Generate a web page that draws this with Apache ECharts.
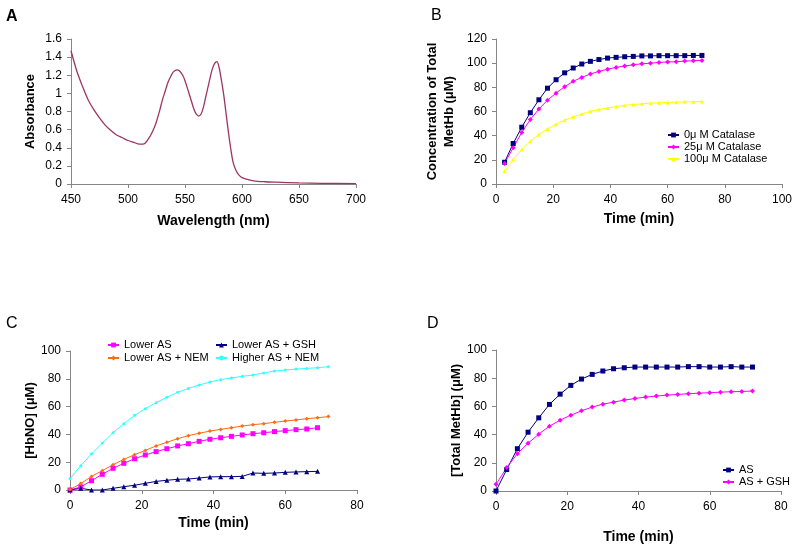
<!DOCTYPE html>
<html>
<head>
<meta charset="utf-8">
<script src="https://cdn.jsdelivr.net/npm/echarts@6/dist/echarts.min.js"></script>
<style>html,body{margin:0;padding:0;background:#fff}#c{width:800px;height:546px}</style>
</head>
<body>
<div id="c"></div>
<script>
// Panel A: absorbance spectrum
const wavelength = [450,455,460,465,470,475,480,485,490,495,500,505,510,513,515,518,520,523,525,528,530,533,535,538,540,543,545,548,550,553,555,558,560,562,564,566,568,570,572,574,576,578,580,582,584,586,588,590,592,594,596,598,600,605,610,620,630,650,670,700];
const absorbance = [1.47,1.25,1.08,0.93,0.82,0.73,0.65,0.59,0.54,0.51,0.48,0.46,0.44,0.44,0.45,0.50,0.54,0.62,0.69,0.82,0.92,1.04,1.12,1.20,1.24,1.26,1.25,1.20,1.14,1.02,0.94,0.82,0.77,0.75,0.77,0.84,0.95,1.06,1.17,1.27,1.33,1.35,1.28,1.14,0.98,0.78,0.58,0.40,0.25,0.17,0.12,0.09,0.07,0.05,0.035,0.025,0.02,0.012,0.008,0.005];

// Panel B: catalase
const timeB = [3,6,9,12,15,18,21,24,27,30,33,36,39,42,45,48,51,54,57,60,63,66,69,72];
const cat0 = [18,33.5,47,59,69.7,79.3,86.3,92,96,99.3,101.5,103,104.2,104.8,105.3,105.6,106,106,106.2,106.2,106.2,106.2,106.4,106.4];
const cat25 = [17,30,42.6,53.4,62,69.4,75.2,80.5,85,88.2,91,93.2,95,96.5,97.6,98.7,99.5,100,100.6,101,101.2,101.7,102,102.3];
const cat100 = [10.8,20.2,28.5,35.4,41,45.6,49.5,52.8,55.6,58,60,61.7,63,64.1,65,65.8,66.4,66.9,67.2,67.5,67.7,68,68,68.3];

// Panel C: HbNO
const timeC = [0,3,6,9,12,15,18,21,24,27,30,33,36,39,42,45,48,51,54,57,60,63,66,69,72];
const lowerAS = [0,2.2,6.7,11.3,15.6,19.2,22.5,25.2,27.6,29.7,31.7,33.3,35,36.5,37.6,38.6,39.6,40.5,41.2,42,42.7,43.4,43.9,44.8];
const lowerASGSH = [0,1.2,0,0,1.2,2.4,3.4,4.8,6.2,7,7.7,7.9,8.6,9.4,9.6,9.6,9.8,12.2,12,12.2,12.7,13,13.2,13.4];
const lowerASNEM = [0.3,4.6,9.8,13.9,18.2,22,25.4,28.5,31.7,34.3,36.9,39.1,40.8,42.4,43.6,44.8,46,47,47.7,48.7,49.6,50.4,51.3,52,52.8];
const higherASNEM = [8.2,17.5,26,33.8,41.2,47.7,53.7,58.5,62.8,66.7,70.3,73.1,75.5,77.7,79.4,80.6,81.8,82.7,84.2,85.6,86.3,87,87.5,88,88.7];

// Panel D: total MetHb
const timeD = [0,3,6,9,12,15,18,21,24,27,30,33,36,39,42,45,48,51,54,57,60,63,66,69,72];
const metAS = [0,15.2,30,41.7,51.9,61.4,68.7,74.9,79.4,82.7,85.1,86.7,87.4,87.9,87.9,87.9,87.9,87.9,88.2,88.2,87.9,87.9,88.2,87.9,87.9];
const metASGSH = [4.7,16.6,26.5,33.9,40.3,46,50.2,53.8,56.9,59.5,61.6,63,64.5,65.6,66.6,67.3,68,68.5,69,69.4,69.7,70.1,70.4,70.6,70.9];

const pair = (xs, ys) => ys.map((y, i) => [xs[i], y]);

const FONT = 'Liberation Sans, Arial, sans-serif';
const axisLine = {lineStyle: {color: '#868686', width: 1}};
const axisTick = {show: true, inside: false, length: 4, lineStyle: {color: '#868686'}};
const xLabel = {color: '#000', fontSize: 12, fontFamily: FONT, margin: 10};
const yLabel = {color: '#000', fontSize: 12, fontFamily: FONT, margin: 9};
const xNameStyle = {color: '#000', fontSize: 14, fontWeight: 'bold', fontFamily: FONT};
const yNameStyle = {color: '#000', fontSize: 13, fontWeight: 'bold', fontFamily: FONT};

function xAx(idx, min, max, interval, name, gap) {
  return {gridIndex: idx, type: 'value', min, max, interval, name, nameLocation: 'middle', nameGap: gap,
    nameTextStyle: xNameStyle, axisLine, axisTick, axisLabel: xLabel, splitLine: {show: false}};
}
function yAx(idx, min, max, interval, name, gap, extra) {
  return Object.assign({gridIndex: idx, type: 'value', min, max, interval, name, nameLocation: 'middle', nameGap: gap,
    nameTextStyle: yNameStyle, axisLine: Object.assign({show: true}, axisLine), axisTick, axisLabel: yLabel, splitLine: {show: false}}, extra || {});
}
function ser(name, idx, data, color, symbol, size) {
  return {name, type: 'line', xAxisIndex: idx, yAxisIndex: idx, data, symbol, symbolSize: size,
    showSymbol: true, lineStyle: {color, width: 1}, itemStyle: {color}, animation: false};
}
function leg(data, left, top, gap) {
  return {data, orient: 'vertical', left, top, padding: 0, itemWidth: 11, itemHeight: 6, itemGap: gap,
    textStyle: {fontSize: 11, lineHeight: 12, color: '#000', fontFamily: FONT}};
}

const NAVY = '#000080', MAG = '#ff00ff', YEL = '#ffff00', ORG = '#ff6a13', CYAN = '#33ffff';

const chart = echarts.init(document.getElementById('c'), null, {renderer: 'canvas'});
chart.setOption({
  animation: false,
  backgroundColor: '#fff',
  textStyle: {fontFamily: FONT},
  graphic: [
    {type: 'text', left: 6, top: 9, style: {text: 'A', fontSize: 16, fontWeight: 'bold', fill: '#000', fontFamily: FONT}},
    {type: 'text', left: 431, top: 8, style: {text: 'B', fontSize: 16, fill: '#000', fontFamily: FONT}},
    {type: 'text', left: 6, top: 316, style: {text: 'C', fontSize: 16, fill: '#000', fontFamily: FONT}},
    {type: 'text', left: 427, top: 316, style: {text: 'D', fontSize: 16, fill: '#000', fontFamily: FONT}}
  ],
  grid: [
    {left: 71, top: 39, width: 285, height: 145},
    {left: 496, top: 39, width: 286, height: 145},
    {left: 70, top: 351, width: 287, height: 139},
    {left: 496, top: 350, width: 285, height: 141}
  ],
  xAxis: [
    xAx(0, 450, 700, 50, 'Wavelength (nm)', 30),
    xAx(1, 0, 100, 20, 'Time (min)', 28),
    xAx(2, 0, 80, 20, 'Time (min)', 26),
    xAx(3, 0, 80, 20, 'Time (min)', 39)
  ],
  yAxis: [
    yAx(0, 0, 1.6, 0.2, 'Absorbance', 34),
    yAx(1, 0, 120, 20, 'Concentration of Total\nMetHb (\u03bcM)', 38, {nameTextStyle: Object.assign({}, yNameStyle, {lineHeight: 17})}),
    yAx(2, 0, 100, 20, '[HbNO] (\u03bcM)', 31),
    yAx(3, 0, 100, 20, '[Total MetHb] (\u03bcM)', 27)
  ],
  legend: [
    leg(['0\u03bc M Catalase', '25\u03bc M Catalase', '100\u03bc M Catalase'], 667, 129, 0),
    leg(['Lower AS', 'Lower AS + NEM'], 107, 339, 1),
    leg(['Lower AS + GSH', 'Higher AS + NEM'], 215, 339, 1),
    leg(['AS', 'AS + GSH'], 722, 464, 0)
  ],
  series: [
    Object.assign(ser('Spectrum', 0, pair(wavelength, absorbance), '#a0345f', 'none', 0), {smooth: 0.3, lineStyle: {color: '#a0345f', width: 1.3}}),
    ser('0\u03bc M Catalase', 1, pair(timeB, cat0), NAVY, 'rect', 5),
    ser('25\u03bc M Catalase', 1, pair(timeB, cat25), MAG, 'diamond', 5),
    ser('100\u03bc M Catalase', 1, pair(timeB, cat100), YEL, 'triangle', 4),
    ser('Lower AS', 2, pair(timeC, lowerAS), MAG, 'rect', 5),
    ser('Lower AS + GSH', 2, pair(timeC, lowerASGSH), NAVY, 'triangle', 5),
    ser('Lower AS + NEM', 2, pair(timeC, lowerASNEM), ORG, 'diamond', 4),
    ser('Higher AS + NEM', 2, pair(timeC, higherASNEM), CYAN, 'circle', 3),
    ser('AS', 3, pair(timeD, metAS), NAVY, 'rect', 5),
    ser('AS + GSH', 3, pair(timeD, metASGSH), MAG, 'diamond', 5)
  ]
});
</script>
</body>
</html>
